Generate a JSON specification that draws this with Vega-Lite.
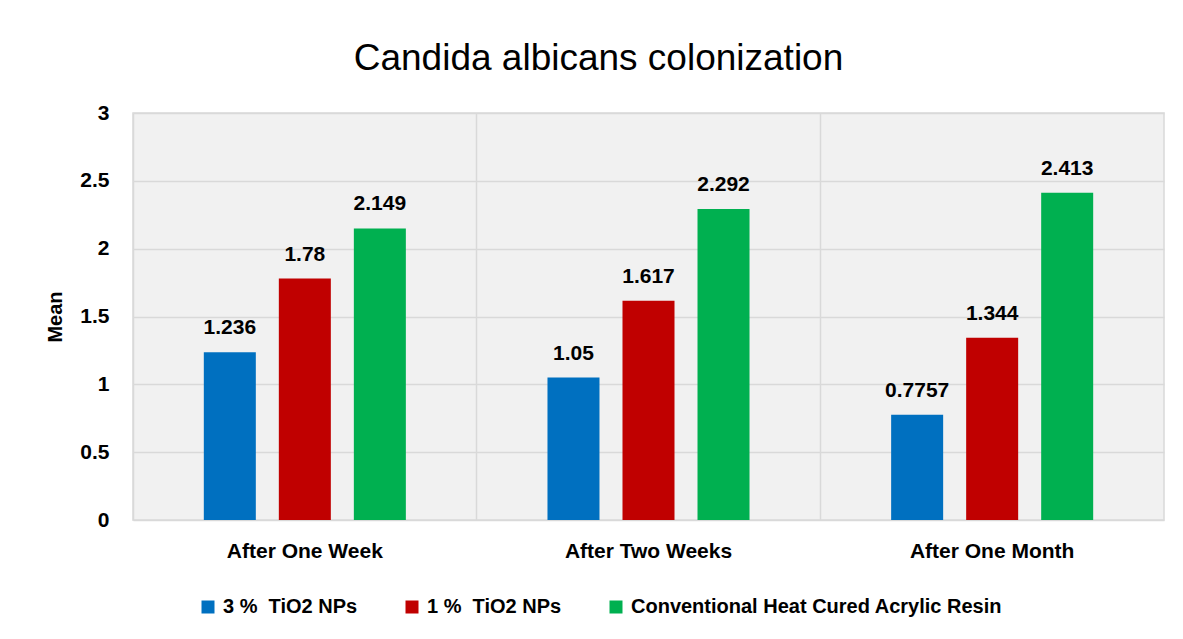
{
  "$schema": "https://vega.github.io/schema/vega-lite/v6.json",
  "width": 1031,
  "height": 407,
  "autosize": "none",
  "padding": {"left": 133, "top": 113, "right": 19, "bottom": 119},
  "background": "#ffffff",
  "title": {
    "text": "Candida albicans colonization",
    "font": "Liberation Sans",
    "fontSize": 37,
    "fontWeight": "normal",
    "color": "#000000",
    "baseline": "alphabetic",
    "offset": -5,
    "dx": -50
  },
  "data": {
    "values": [
      {"period": "After One Week", "series": "3 %\u00a0 TiO2 NPs", "mean": 1.236},
      {"period": "After One Week", "series": "1 %\u00a0 TiO2 NPs", "mean": 1.78},
      {"period": "After One Week", "series": "Conventional Heat Cured Acrylic Resin", "mean": 2.149},
      {"period": "After Two Weeks", "series": "3 %\u00a0 TiO2 NPs", "mean": 1.05},
      {"period": "After Two Weeks", "series": "1 %\u00a0 TiO2 NPs", "mean": 1.617},
      {"period": "After Two Weeks", "series": "Conventional Heat Cured Acrylic Resin", "mean": 2.292},
      {"period": "After One Month", "series": "3 %\u00a0 TiO2 NPs", "mean": 0.7757},
      {"period": "After One Month", "series": "1 %\u00a0 TiO2 NPs", "mean": 1.344},
      {"period": "After One Month", "series": "Conventional Heat Cured Acrylic Resin", "mean": 2.413}
    ]
  },
  "encoding": {
    "x": {
      "field": "period",
      "type": "nominal",
      "sort": ["After One Week", "After Two Weeks", "After One Month"],
      "scale": {"paddingInner": 0, "paddingOuter": 0},
      "axis": {
        "title": null,
        "labelAngle": 0,
        "labelFont": "Liberation Sans",
        "labelFontSize": 21,
        "labelFontWeight": "bold",
        "labelColor": "#000000",
        "labelPadding": 20,
        "ticks": false,
        "domain": false,
        "grid": true,
        "bandPosition": 0,
        "gridColor": "#d9d9d9",
        "gridWidth": 1.5
      }
    },
    "xOffset": {
      "field": "series",
      "type": "nominal",
      "sort": ["3 %\u00a0 TiO2 NPs", "1 %\u00a0 TiO2 NPs", "Conventional Heat Cured Acrylic Resin"],
      "scale": {"paddingInner": 0.3067, "paddingOuter": 0.944}
    },
    "y": {
      "field": "mean",
      "type": "quantitative",
      "scale": {"domain": [0, 3], "nice": false},
      "axis": {
        "title": "Mean",
        "titleFont": "Liberation Sans",
        "titleFontSize": 20,
        "titleFontWeight": "bold",
        "titleColor": "#000000",
        "titlePadding": 14,
        "values": [0, 0.5, 1, 1.5, 2, 2.5, 3],
        "labelExpr": "'' + datum.value",
        "labelFont": "Liberation Sans",
        "labelFontSize": 21,
        "labelFontWeight": "bold",
        "labelColor": "#000000",
        "labelPadding": 24,
        "ticks": false,
        "domain": false,
        "grid": true,
        "gridColor": "#d9d9d9",
        "gridWidth": 1.5
      }
    }
  },
  "layer": [
    {
      "mark": {"type": "bar"},
      "encoding": {
        "color": {
          "field": "series",
          "type": "nominal",
          "sort": ["3 %\u00a0 TiO2 NPs", "1 %\u00a0 TiO2 NPs", "Conventional Heat Cured Acrylic Resin"],
          "scale": {
            "domain": ["3 %\u00a0 TiO2 NPs", "1 %\u00a0 TiO2 NPs", "Conventional Heat Cured Acrylic Resin"],
            "range": ["#0070C0", "#C00000", "#00B050"]
          },
          "legend": {
            "title": null,
            "orient": "none",
            "direction": "horizontal",
            "legendX": 65,
            "legendY": 484,
            "symbolType": "square",
            "symbolSize": 169,
            "symbolStrokeWidth": 0,
            "symbolOpacity": 1,
            "labelFont": "Liberation Sans",
            "labelFontSize": 20,
            "labelFontWeight": "bold",
            "labelColor": "#000000",
            "labelOffset": 5,
            "columnPadding": 44,
            "labelLimit": 600
          }
        }
      }
    },
    {
      "mark": {
        "type": "text",
        "baseline": "alphabetic",
        "dy": -18,
        "font": "Liberation Sans",
        "fontSize": 21,
        "fontWeight": "bold",
        "color": "#000000"
      },
      "encoding": {
        "text": {"field": "mean", "type": "quantitative", "format": "~g"}
      }
    }
  ],
  "config": {
    "view": {"fill": "#f1f1f1", "stroke": "#d9d9d9", "strokeWidth": 1.5}
  }
}
